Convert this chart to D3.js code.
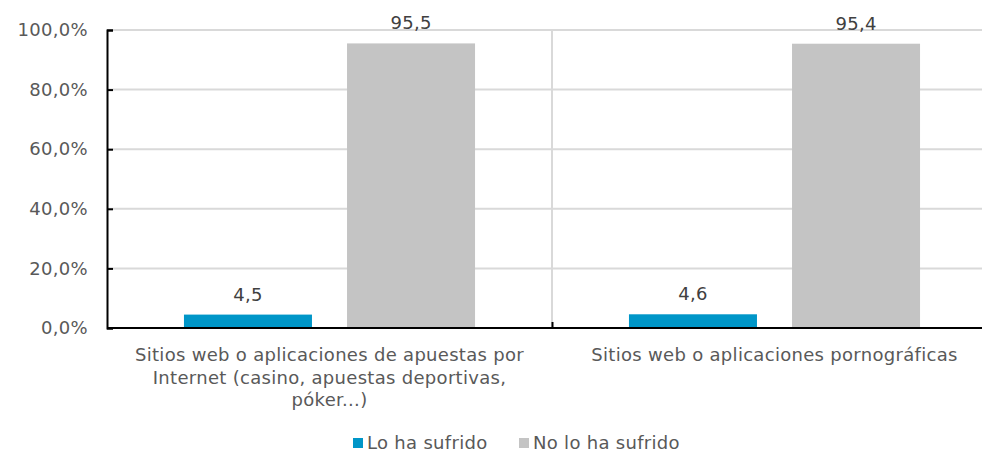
<!DOCTYPE html>
<html>
<head>
<meta charset="utf-8">
<script src="https://cdn.jsdelivr.net/npm/d3@7"></script>
<style>
  body { margin: 0; background: #fff; }
  text { font-family: "DejaVu Sans", Verdana, sans-serif; letter-spacing: 0.3px; }
</style>
</head>
<body>
<svg id="chart" width="982" height="454"></svg>
<script>
// data
const categories = [
  ["Sitios web o aplicaciones de apuestas por", "Internet (casino, apuestas deportivas,", "póker...)"],
  ["Sitios web o aplicaciones pornográficas"]
];
const seriesNames = ["Lo ha sufrido", "No lo ha sufrido"];
const sufrido = [4.5, 4.6];
const noSufrido = [95.5, 95.4];
const yTicks = [0, 20, 40, 60, 80, 100];
const colors = ["#0096c8", "#c4c4c4"];

const svg = d3.select("#chart");
const mLeft = 107, mRight = 997, mTop = 30, mBottom = 328;
const catIdx = categories.map((c, i) => i);

const x0 = d3.scaleBand().domain(catIdx).range([mLeft, mRight]).padding(0);
const x1 = d3.scaleBand().domain([0, 1]).range([0, x0.bandwidth()])
  .paddingInner(0.215).paddingOuter(0.472);
const y = d3.scaleLinear().domain([0, 100]).range([mBottom, mTop]);

const fmt = v => d3.format(".1f")(v).replace(".", ",");

// gridlines
svg.append("g").selectAll("line")
  .data(yTicks.filter(t => t > 0))
  .enter().append("line")
  .attr("x1", mLeft).attr("x2", mRight)
  .attr("y1", d => y(d)).attr("y2", d => y(d))
  .attr("stroke", "#d9d9d9").attr("stroke-width", 2);

// category separator
svg.append("line")
  .attr("x1", x0(1)).attr("x2", x0(1))
  .attr("y1", mTop).attr("y2", mBottom)
  .attr("stroke", "#d9d9d9").attr("stroke-width", 2);

// bars
const rows = catIdx.map(i => [sufrido[i], noSufrido[i]]);
const groups = svg.append("g").selectAll("g")
  .data(rows).enter().append("g")
  .attr("transform", (d, i) => `translate(${x0(i)},0)`);

groups.selectAll("rect")
  .data(d => d).enter().append("rect")
  .attr("x", (d, j) => x1(j))
  .attr("width", x1.bandwidth())
  .attr("y", d => y(d))
  .attr("height", d => y(0) - y(d))
  .attr("fill", (d, j) => colors[j]);

groups.selectAll("text")
  .data(d => d).enter().append("text")
  .attr("x", (d, j) => x1(j) + x1.bandwidth() / 2)
  .attr("y", d => y(d) - 14)
  .attr("text-anchor", "middle")
  .attr("font-size", 18)
  .attr("fill", "#404040")
  .text(d => fmt(d));

// y axis
const yAxis = d3.axisLeft(y).tickValues(yTicks).tickSize(-6).tickFormat(d => fmt(d) + "%").tickPadding(19);
const ya = svg.append("g").attr("transform", `translate(${mLeft},0)`).call(yAxis);
ya.select(".domain").attr("stroke", "#000").attr("stroke-width", 2);
ya.selectAll(".tick line").attr("stroke", "#000").attr("stroke-width", 2);
ya.selectAll(".tick text").attr("font-size", 18).attr("fill", "#595959")
  .attr("font-family", "DejaVu Sans, Verdana, sans-serif");

// x axis
const xa = svg.append("g").attr("transform", `translate(0,${mBottom})`)
  .call(d3.axisBottom(d3.scaleLinear().domain([mLeft, mRight]).range([mLeft, mRight]))
    .tickValues([x0(1)]).tickSize(-6).tickFormat(""));
xa.select(".domain").attr("stroke", "#000").attr("stroke-width", 2).attr("d", `M${mLeft},0H${mRight}`);
xa.selectAll(".tick line").attr("stroke", "#000").attr("stroke-width", 2);

// category labels
svg.append("g").selectAll("text")
  .data(categories).enter().append("text")
  .attr("x", (d, i) => x0(i) + x0.bandwidth() / 2)
  .attr("y", 361)
  .attr("text-anchor", "middle")
  .attr("font-size", 18)
  .attr("fill", "#595959")
  .each(function (lines) {
    const cx = d3.select(this).attr("x");
    d3.select(this).selectAll("tspan").data(lines).enter().append("tspan")
      .attr("x", cx)
      .attr("dy", (d, k) => k === 0 ? 0 : 22.5)
      .text(d => d);
  });

// legend
const legend = svg.append("g");
const legendX = [353, 519];
seriesNames.forEach((name, i) => {
  legend.append("rect")
    .attr("x", legendX[i]).attr("y", 438)
    .attr("width", 10).attr("height", 10)
    .attr("fill", colors[i]);
  legend.append("text")
    .attr("x", legendX[i] + 14).attr("y", 449)
    .attr("font-size", 18).attr("fill", "#595959")
    .text(name);
});
</script>
</body>
</html>
